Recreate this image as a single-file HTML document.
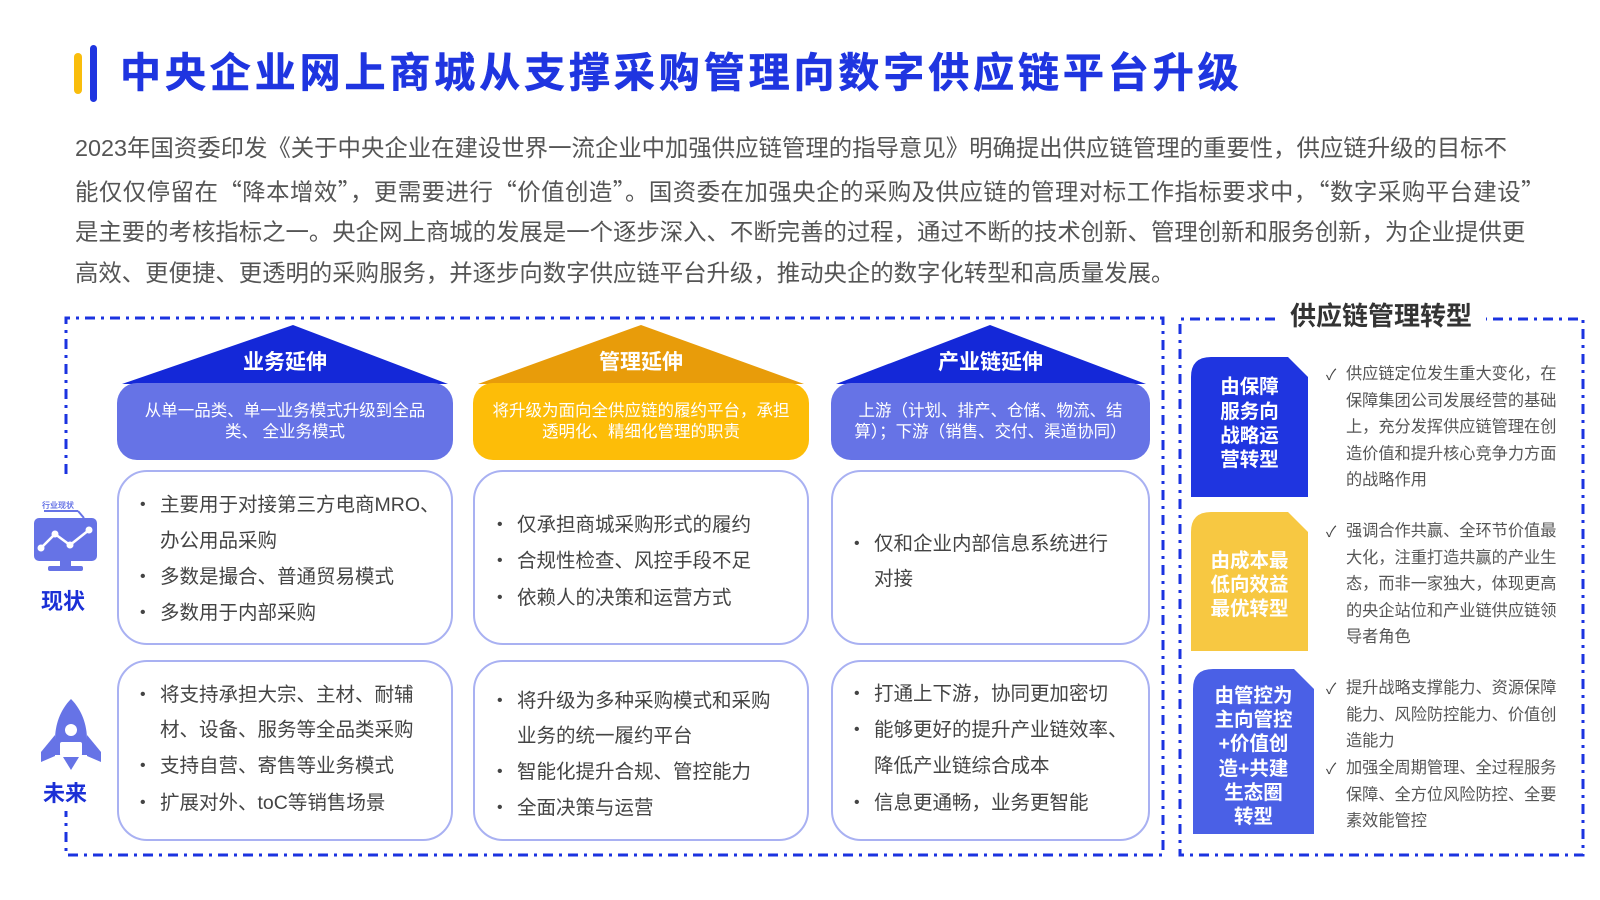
<!DOCTYPE html>
<html><head><meta charset="utf-8">
<style>
*{margin:0;padding:0;box-sizing:border-box}
body{width:1600px;height:900px;background:#fff;position:relative;overflow:hidden;font-family:"Liberation Sans","Noto Sans CJK SC",sans-serif}
.a{position:absolute;white-space:nowrap}
.title{left:120px;top:46px;font-size:41px;font-weight:bold;color:#1f35e0;line-height:54px;letter-spacing:3.9px;-webkit-text-stroke:0.6px #1f35e0}
.para{left:75px;font-size:23.4px;color:#555;line-height:30px}
.q{font-family:"Noto Sans CJK SC",sans-serif}
.hdr{color:#fff;font-size:21px;font-weight:bold;text-align:center;line-height:28px}
.sub{position:absolute;border-radius:20px;color:#fff;font-size:16.5px;line-height:21px;text-align:center;display:flex;align-items:center;justify-content:center;padding:0 14px}
.box{position:absolute;border:2px solid #a9b1f2;border-radius:30px;background:#fff}
.li{position:absolute;font-size:19.5px;color:#444;line-height:26px;white-space:nowrap}
.li:before{content:"•";position:absolute;left:-20px;font-size:16px;color:#444}
.li.nob:before{content:none}
.tag{position:absolute;color:#fff;font-weight:bold;font-size:19.5px;line-height:24.3px;text-align:center;display:flex;align-items:center;justify-content:center}
.rt{position:absolute;left:1346px;font-size:16.2px;color:#555;line-height:26.6px;white-space:nowrap}
.ck{position:absolute;left:1326px;font-size:15px;color:#444}
.lbl{position:absolute;font-size:22px;font-weight:bold;color:#1a2fd6;text-align:center;width:80px}
</style></head><body>

<div class="a" style="left:74px;top:53px;width:8px;height:41px;background:#f9bd0c;border-radius:4px"></div>
<div class="a" style="left:90px;top:45px;width:7px;height:57px;background:#1f35e0;border-radius:4px"></div>
<div class="a title">中央企业网上商城从支撑采购管理向数字供应链平台升级</div>

<div class="a para" style="top:133px">2023年国资委印发《关于中央企业在建设世界一流企业中加强供应链管理的指导意见》明确提出供应链管理的重要性，供应链升级的目标不</div>
<div class="a para" style="top:175px;letter-spacing:0.5px">能仅仅停留在<span class="q">“</span>降本增效<span class="q">”</span>，更需要进行<span class="q">“</span>价值创造<span class="q">”</span>。国资委在加强央企的采购及供应链的管理对标工作指标要求中，<span class="q">“</span>数字采购平台建设<span class="q">”</span></div>
<div class="a para" style="top:217px">是主要的考核指标之一。央企网上商城的发展是一个逐步深入、不断完善的过程，通过不断的技术创新、管理创新和服务创新，为企业提供更</div>
<div class="a para" style="top:258px">高效、更便捷、更透明的采购服务，并逐步向数字供应链平台升级，推动央企的数字化转型和高质量发展。</div>

<svg class="a" style="left:0;top:0" width="1600" height="900">
 <g fill="none" stroke="#1b33e0" stroke-width="3" stroke-dasharray="10 6 3 6">
  <path d="M66 474 V318 H1163 V855 H66 V811"/>
  <path d="M1275 319 H1180 V855 H1583 V319 H1486"/>
 </g>
 <polygon points="293,325 122,384 448,384" fill="#1428d8"/>
 <polygon points="641,325 478,384 804,384" fill="#e89c0a"/>
 <polygon points="990,325 836,384 1146,384" fill="#1428d8"/>
 <g>
  <text x="42" y="508" font-size="8" font-weight="bold" fill="#6673e6" font-family="Liberation Sans,Noto Sans CJK SC,sans-serif">行业现状</text>
  <line x1="44" y1="511" x2="78" y2="511" stroke="#6673e6" stroke-width="2"/>
  <line x1="78" y1="511" x2="84" y2="518" stroke="#6673e6" stroke-width="2"/>
  <rect x="34" y="518" width="63" height="43" rx="5" fill="#6673e6"/>
  <rect x="60" y="561" width="11" height="6" fill="#6673e6"/>
  <rect x="48" y="566" width="35" height="5" rx="2" fill="#6673e6"/>
  <polyline points="41,548 55,534 70,545 89,530" fill="none" stroke="#fff" stroke-width="2.5"/>
  <circle cx="41" cy="548" r="3.5" fill="#fff"/><circle cx="55" cy="534" r="3.5" fill="#fff"/><circle cx="70" cy="545" r="3.5" fill="#fff"/><circle cx="89" cy="530" r="3.5" fill="#fff"/>
 </g>
 <g fill="#6673e6">
  <path d="M71 699 C60 710 55 725 55 740 L55 755 L87 755 L87 740 C87 725 82 710 71 699 Z"/>
  <path d="M55 735 L41 752 L41 762 L55 756 Z"/>
  <path d="M87 735 L101 752 L101 762 L87 756 Z"/>
  <path d="M63 757 L79 757 L71 770 Z"/>
  <circle cx="71" cy="730" r="6" fill="#fff"/>
  <rect x="60" y="742" width="22" height="14" fill="#fff" rx="2"/>
 </g>
 <path d="M1211 357 H1288 L1308 377 V497 H1191 V377 Q1191 357 1211 357 Z" fill="#1f35e0"/>
 <path d="M1211 512 H1288 L1308 532 V651 H1191 V532 Q1191 512 1211 512 Z" fill="#f7c842"/>
 <path d="M1213 669 H1294 L1314 689 V834 H1193 V689 Q1193 669 1213 669 Z" fill="#4a60e6"/>
</svg>

<div class="lbl" style="left:23px;top:584px">现状</div>
<div class="lbl" style="left:25px;top:776px">未来</div>

<div class="a" style="left:1290px;top:296px;font-size:26px;font-weight:bold;color:#333">供应链管理转型</div>

<div class="a hdr" style="left:117px;width:336px;top:349px">业务延伸</div>
<div class="a hdr" style="left:473px;width:336px;top:349px">管理延伸</div>
<div class="a hdr" style="left:831px;width:319px;top:349px">产业链延伸</div>

<div class="sub" style="left:117px;top:383px;width:336px;height:77px;background:#6673e6">从单一品类、单一业务模式升级到全品类、 全业务模式</div>
<div class="sub" style="left:473px;top:383px;width:336px;height:77px;background:#fdbd08">将升级为面向全供应链的履约平台，承担透明化、精细化管理的职责</div>
<div class="sub" style="left:831px;top:383px;width:319px;height:77px;background:#6673e6">上游（计划、排产、仓储、物流、结算）；下游（销售、交付、渠道协同）</div>

<div class="box" style="left:117px;top:470px;width:336px;height:175px"></div>
<div class="box" style="left:473px;top:470px;width:336px;height:175px"></div>
<div class="box" style="left:831px;top:470px;width:319px;height:175px"></div>
<div class="box" style="left:117px;top:660px;width:336px;height:181px"></div>
<div class="box" style="left:473px;top:660px;width:336px;height:181px"></div>
<div class="box" style="left:831px;top:660px;width:319px;height:181px"></div>

<div class="li" style="left:160px;top:492px">主要用于对接第三方电商MRO、</div>
<div class="li nob" style="left:160px;top:528px">办公用品采购</div>
<div class="li" style="left:160px;top:564px">多数是撮合、普通贸易模式</div>
<div class="li" style="left:160px;top:600px">多数用于内部采购</div>

<div class="li" style="left:517px;top:512px">仅承担商城采购形式的履约</div>
<div class="li" style="left:517px;top:548px">合规性检查、风控手段不足</div>
<div class="li" style="left:517px;top:585px">依赖人的决策和运营方式</div>

<div class="li" style="left:874px;top:531px">仅和企业内部信息系统进行</div>
<div class="li nob" style="left:874px;top:566px">对接</div>

<div class="li" style="left:160px;top:682px">将支持承担大宗、主材、耐辅</div>
<div class="li nob" style="left:160px;top:717px">材、设备、服务等全品类采购</div>
<div class="li" style="left:160px;top:753px">支持自营、寄售等业务模式</div>
<div class="li" style="left:160px;top:790px">扩展对外、toC等销售场景</div>

<div class="li" style="left:517px;top:688px">将升级为多种采购模式和采购</div>
<div class="li nob" style="left:517px;top:723px">业务的统一履约平台</div>
<div class="li" style="left:517px;top:759px">智能化提升合规、管控能力</div>
<div class="li" style="left:517px;top:795px">全面决策与运营</div>

<div class="li" style="left:874px;top:681px">打通上下游，协同更加密切</div>
<div class="li" style="left:874px;top:717px">能够更好的提升产业链效率、</div>
<div class="li nob" style="left:874px;top:753px">降低产业链综合成本</div>
<div class="li" style="left:874px;top:790px">信息更通畅，业务更智能</div>

<div class="tag" style="left:1191px;top:369px;width:117px;height:110px">由保障<br>服务向<br>战略运<br>营转型</div>
<div class="tag" style="left:1191px;top:547px;width:117px;height:76px">由成本最<br>低向效益<br>最优转型</div>
<div class="tag" style="left:1193px;top:684px;width:121px;height:145px">由管控为<br>主向管控<br>+价值创<br>造+共建<br>生态圈<br>转型</div>

<div class="ck" style="top:364px">✓</div>
<div class="rt" style="top:361px">供应链定位发生重大变化，在<br>保障集团公司发展经营的基础<br>上，充分发挥供应链管理在创<br>造价值和提升核心竞争力方面<br>的战略作用</div>
<div class="ck" style="top:521px">✓</div>
<div class="rt" style="top:518px">强调合作共赢、全环节价值最<br>大化，注重打造共赢的产业生<br>态，而非一家独大，体现更高<br>的央企站位和产业链供应链领<br>导者角色</div>
<div class="ck" style="top:678px">✓</div>
<div class="rt" style="top:675px">提升战略支撑能力、资源保障<br>能力、风险防控能力、价值创<br>造能力</div>
<div class="ck" style="top:758px">✓</div>
<div class="rt" style="top:755px">加强全周期管理、全过程服务<br>保障、全方位风险防控、全要<br>素效能管控</div>
</body></html>
